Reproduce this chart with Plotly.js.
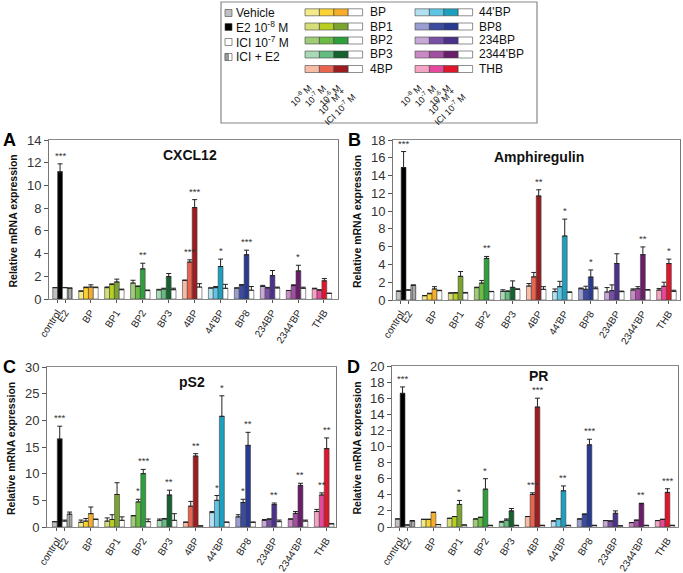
<!DOCTYPE html>
<html><head><meta charset="utf-8">
<script src="https://cdn.plot.ly/plotly-3.0.1.min.js"></script>
<style>body{margin:0;background:#fff}#chart{width:683px;height:573px}</style>
</head><body><div id="chart"></div>
<script>
// ---------- categories ----------
const groups = ['control','BP','BP1','BP2','BP3','4BP',"44'BP",'BP8','234BP',"2344'BP",'THB'];
const tickLabels = ['control','E2','BP','BP1','BP2','BP3','4BP',"44'BP",'BP8','234BP',"2344'BP",'THB'];
const legendLeft = ['Vehicle','E2 10<sup>-8</sup> M','ICI 10<sup>-7</sup> M','ICI + E2'];
const doseLabels = ['10<sup>-8</sup> M','10<sup>-7</sup> M','10<sup>-6</sup> M','10<sup>-6</sup> M +<br>ICI 10<sup>-7</sup> M'];

// ---------- colours (series: lo = vehicle/10^-8, mid = E2/10^-7, hi = ICI/10^-6, ici = ICI+E2 / 10^-6+ICI) ----------
const colLo  = ['#c0c0c0','#f3ea8a','#d6de7a','#a0cc78','#a9d8b6','#f7bba6','#b2e0f0','#9b9ed0','#c7a8d6','#c98ac3','#f5a3c3'];
const colMid = ['#000000','#fbd232','#b8cf22','#6cbb44','#66bb80','#e9644e','#5ec5e5','#3a4ba0','#7a50a6','#a24ea0','#e6489b'];
const colHi  = ['#ffffff','#f6ad2a','#7aa42f','#2d9f3c','#15622f','#9c1c20','#1da0bf','#283b90','#4c318b','#6a1e6a','#e0162c'];
const colIci = ['#a8a8a8','#ffffff','#ffffff','#ffffff','#ffffff','#ffffff','#ffffff','#ffffff','#ffffff','#ffffff','#ffffff'];

// ---------- CXCL12 ----------
const cxcl12_lo      = [1.0, 0.70, 1.00, 1.40, 0.80, 1.65, 0.97, 0.97, 1.10, 0.75, 0.90];
const cxcl12_lo_err  = [0, 0, 0.06, 0.25, 0.05, 0, 0, 0, 0.10, 0, 0.05];
const cxcl12_mid     = [11.2, 1.00, 1.28, 1.10, 0.88, 3.25, 1.00, 1.22, 0.97, 1.18, 0.80];
const cxcl12_mid_err = [0.7, 0.05, 0.05, 0.05, 0.07, 0.20, 0.10, 0.05, 0.05, 0.07, 0];
const cxcl12_hi      = [1.0, 1.05, 1.50, 2.65, 1.97, 8.05, 2.86, 3.90, 2.06, 2.47, 1.60];
const cxcl12_hi_err  = [0, 0.20, 0.25, 0.50, 0.27, 0.70, 0.65, 0.40, 0.45, 0.50, 0.20];
const cxcl12_ici     = [0.95, 1.00, 0.82, 0.74, 0.82, 1.05, 0.94, 0.77, 0.97, 0.94, 0.50];
const cxcl12_ici_err = [0.02, 0.05, 0.05, 0.05, 0.13, 0.30, 0.35, 0.33, 0.08, 0.10, 0];
const cxcl12_star_mid = ['***','','','','','***','','','','',''];
const cxcl12_star_hi  = ['','','','**','','***','*','***','','*',''];

// ---------- Amphiregulin ----------
const areg_lo      = [1.0, 0.49, 0.79, 1.39, 0.97, 1.57, 0.94, 1.27, 0.90, 1.12, 1.12];
const areg_lo_err  = [0, 0, 0, 0.05, 0.18, 0.28, 0.30, 0.08, 0.50, 0.13, 0.18];
const areg_mid     = [14.9, 0.71, 0.79, 1.90, 0.97, 2.60, 1.50, 1.20, 1.05, 1.27, 1.54];
const areg_mid_err = [1.8, 0.05, 0.05, 0.30, 0.05, 0.50, 0.60, 0.35, 0.65, 0.23, 0.46];
const areg_hi      = [1.1, 1.24, 2.66, 4.68, 1.42, 11.7, 7.20, 2.58, 4.10, 5.10, 4.10];
const areg_hi_err  = [0.05, 0.26, 0.54, 0.22, 0.73, 0.70, 1.90, 0.80, 1.10, 0.87, 0.50];
const areg_ici     = [1.65, 1.05, 0.79, 0.94, 1.20, 1.20, 0.86, 1.27, 0.94, 1.12, 0.97];
const areg_ici_err = [0.05, 0.05, 0.06, 0.03, 0.05, 0.30, 0.05, 0.18, 0.06, 0.05, 0.13];
const areg_star_mid = ['***','','','','','','','','','',''];
const areg_star_hi  = ['','','','**','','**','*','*','','**','*'];

// ---------- pS2 ----------
const ps2_lo      = [1.0, 0.88, 1.10, 2.10, 1.25, 0.90, 2.70, 1.90, 1.25, 1.50, 2.90];
const ps2_lo_err  = [0, 0.42, 0.60, 0.05, 0.25, 0, 0.20, 0.40, 0.15, 0, 0.40];
const ps2_mid     = [16.5, 1.10, 1.40, 4.70, 1.50, 3.90, 5.00, 4.60, 1.50, 2.55, 6.00];
const ps2_mid_err = [2.4, 0.50, 0.90, 0.50, 0.10, 0.90, 0.90, 0.60, 0, 0.35, 0.40];
const ps2_hi      = [1.1, 2.50, 6.10, 10.0, 6.00, 13.3, 20.75, 15.3, 4.20, 7.80, 14.7];
const ps2_hi_err  = [0.2, 1.25, 2.20, 0.80, 0.90, 0.45, 3.85, 2.45, 0.30, 0.40, 2.00];
const ps2_ici     = [2.4, 1.40, 1.25, 1.00, 1.25, 0.20, 0.90, 0.90, 1.00, 1.10, 0.60];
const ps2_ici_err = [0.4, 0.10, 0.65, 0.50, 1.25, 0, 0, 0, 0.30, 0.20, 0];
const ps2_star_mid = ['***','','','*','','','*','*','','','**'];
const ps2_star_hi  = ['','','','***','**','**','*','**','**','**','**'];

// ---------- PR ----------
const pr_lo      = [1.0, 0.95, 1.08, 1.00, 0.60, 1.30, 0.75, 1.00, 0.80, 0.55, 0.80];
const pr_lo_err  = [0, 0, 0, 0, 0.10, 0, 0, 0, 0, 0, 0];
const pr_mid     = [16.6, 0.95, 1.30, 1.20, 0.85, 4.05, 1.00, 1.60, 0.75, 0.85, 0.95];
const pr_mid_err = [0.8, 0, 0, 0, 0.15, 0.20, 0.05, 0, 0, 0, 0];
const pr_hi      = [0.25, 1.80, 2.80, 4.70, 2.00, 14.9, 4.50, 10.2, 1.70, 2.90, 4.30];
const pr_hi_err  = [0, 0.05, 0.50, 1.30, 0.30, 1.10, 0.60, 0.70, 0.30, 0.05, 0.45];
const pr_ici     = [0.75, 0.30, 0.25, 0.20, 0.20, 0.20, 0.20, 0.20, 0.15, 0.20, 0.20];
const pr_ici_err = [0.05, 0, 0, 0, 0, 0, 0, 0, 0, 0, 0];
const pr_star_mid = ['***','','','','','***','','','','',''];
const pr_star_hi  = ['','','*','*','','***','**','***','','**','***'];

// ---------- layout helpers ----------
const W = 683, H = 573;
const PX = x => x / W, PY = y => 1 - y / H;
const FONT = 'Liberation Sans, Arial, sans-serif';
const gx = groups.map((g, i) => i);
const nSeries = 4, bargap = 0.25;
const barW = (1 - bargap) / nSeries;
const offs = [0,1,2,3].map(k => -(1 - bargap) / 2 + barW * (k + 0.5));

const panels = [
  {title:'CXCL12', letter:'A', ymax:14, dtick:2, box:[49,338,140,299],
   s:[[cxcl12_lo,cxcl12_lo_err],[cxcl12_mid,cxcl12_mid_err],[cxcl12_hi,cxcl12_hi_err],[cxcl12_ici,cxcl12_ici_err]],
   stars:[null,cxcl12_star_mid,cxcl12_star_hi,null], xr:[-0.52,10.62], letterPos:[9,140], titlePos:[190,155]},
  {title:'Amphiregulin', letter:'B', ymax:18, dtick:2, box:[393,680,140,300],
   s:[[areg_lo,areg_lo_err],[areg_mid,areg_mid_err],[areg_hi,areg_hi_err],[areg_ici,areg_ici_err]],
   stars:[null,areg_star_mid,areg_star_hi,null], xr:[-0.5,10.52], letterPos:[354,140], titlePos:[539,157]},
  {title:'pS2', letter:'C', ymax:30, dtick:5, box:[47,336,367,527],
   s:[[ps2_lo,ps2_lo_err],[ps2_mid,ps2_mid_err],[ps2_hi,ps2_hi_err],[ps2_ici,ps2_ici_err]],
   stars:[null,ps2_star_mid,ps2_star_hi,null], xr:[-0.58,10.45], letterPos:[9,367], titlePos:[192,382]},
  {title:'PR', letter:'D', ymax:20, dtick:2, box:[392,678,366,527],
   s:[[pr_lo,pr_lo_err],[pr_mid,pr_mid_err],[pr_hi,pr_hi_err],[pr_ici,pr_ici_err]],
   stars:[null,pr_star_mid,pr_star_hi,null], xr:[-0.5,10.5], letterPos:[353,367], titlePos:[538,376]}
];
const seriesCols = [colLo, colMid, colHi, colIci];

const data = [];
const annotations = [];
const shapes = [];
const layout = {
  width: W, height: H, margin:{l:0,r:0,t:0,b:0},
  paper_bgcolor:'#fff', plot_bgcolor:'#fff',
  barmode:'group', bargap: bargap, bargroupgap: 0,
  showlegend:false, font:{family:FONT, color:'#222'}
};

const tickPos = tickLabels.map((t, i) => i === 0 ? -0.2 : (i === 1 ? 0.1 : i - 1 + 0.08));

function paperText(x, y, text, font, extra) {
  return Object.assign({xref:'paper', yref:'paper', x: PX(x), y: PY(y), text: text, showarrow:false,
    xanchor:'center', yanchor:'middle', font: font}, extra || {});
}

panels.forEach((p, pi) => {
  const n = pi + 1;
  const xa = n === 1 ? 'x' : 'x' + n, ya = n === 1 ? 'y' : 'y' + n;
  const xk = n === 1 ? 'xaxis' : 'xaxis' + n, yk = n === 1 ? 'yaxis' : 'yaxis' + n;
  const [x0, x1, y0, y1] = p.box;
  layout[xk] = {domain:[PX(x0), PX(x1)], anchor: ya, range: p.xr, tickmode:'array',
    tickvals: tickPos, ticktext: tickLabels, tickangle: -57, ticks:'outside', ticklen:3,
    tickcolor:'#555', tickfont:{size:10, color:'#222', family:FONT},
    showline:true, linecolor:'#888', linewidth:1, mirror:true, showgrid:false, zeroline:false, fixedrange:true, automargin:false};
  layout[yk] = {domain:[PY(y1), PY(y0)], anchor: xa, range:[0, p.ymax], dtick: p.dtick,
    ticks:'outside', ticklen:4, tickcolor:'#555', tickfont:{size:13, color:'#333', family:FONT},
    showline:true, linecolor:'#777', linewidth:1, mirror:true, showgrid:false, zeroline:false, fixedrange:true, automargin:false};

  p.s.forEach(([vals, errs], k) => {
    const trace = {
      type:'bar', x: gx, y: vals, xaxis: xa, yaxis: ya,
      marker:{color: seriesCols[k], line:{color:'#444', width:0.6}},
      error_y:{type:'data', array: errs, arrayminus: errs.map(() => 0), symmetric:false,
               color:'#222', thickness:1, width:2.5},
      hoverinfo:'skip'
    };
    if (k === 3) {
      trace.marker.pattern = {shape: groups.map((g, i) => i === 0 ? '|' : ''), fillmode:'overlay',
                              fgcolor:'#555', size:3, solidity:0.35};
    }
    data.push(trace);
    const st = p.stars[k];
    if (st) st.forEach((s, i) => {
      if (!s) return;
      annotations.push({xref: xa, yref: ya, x: i + offs[k], y: vals[i] + errs[i], text: s,
        showarrow:false, xanchor:'center', yanchor:'bottom', yshift: 1, font:{size:9.5, color:'#333', family:FONT}});
    });
  });

  annotations.push(paperText(p.titlePos[0], p.titlePos[1], '<b>' + p.title + '</b>', {size:14, color:'#111', family:FONT}));
  annotations.push(paperText(p.letterPos[0], p.letterPos[1], '<b>' + p.letter + '</b>', {size:18, color:'#000', family:FONT}));
  annotations.push(paperText(x0 - 36, (y0 + y1) / 2 + 2, '<b>Relative mRNA expression</b>',
    {size:10.5, color:'#111', family:FONT}, {textangle:-90}));
});

// ---------- legend box ----------
const LB = {x0:221, x1:537, y0:2, y1:123};
shapes.push({type:'rect', xref:'paper', yref:'paper', x0:PX(LB.x0), x1:PX(LB.x1), y0:PY(LB.y1), y1:PY(LB.y0),
  line:{color:'#888', width:1.2}, fillcolor:'rgba(0,0,0,0)'});
const leftRows = [13, 27, 42, 57];
const leftFill = ['#c0c0c0', '#000000', '#ffffff', null];
legendLeft.forEach((t, i) => {
  const yc = leftRows[i];
  shapes.push({type:'rect', xref:'paper', yref:'paper', x0:PX(225), x1:PX(232), y0:PY(yc + 3.5), y1:PY(yc - 3.5),
    fillcolor: leftFill[i] || '#ffffff', line:{color:'#444', width:0.6}});
  if (!leftFill[i]) {
    shapes.push({type:'rect', xref:'paper', yref:'paper', x0:PX(225), x1:PX(228.5), y0:PY(yc + 3.5), y1:PY(yc - 3.5),
      fillcolor:'#999999', line:{color:'#444', width:0.4}});
  }
  annotations.push(paperText(234, yc, t, {size:12, color:'#111', family:FONT}, {xanchor:'left'}));
});

const rowY = [12.3, 26.5, 40.5, 54.5, 69];
const cols = [{x:305, lab:368, idx:[1,2,3,4,5]}, {x:415, lab:477, idx:[6,7,8,9,10]}];
const cellW = 14.4, cellH = 7;
cols.forEach(c => {
  c.idx.forEach((gi, r) => {
    const yc = rowY[r];
    seriesCols.forEach((sc, k) => {
      shapes.push({type:'rect', xref:'paper', yref:'paper',
        x0:PX(c.x + k * cellW), x1:PX(c.x + (k + 1) * cellW), y0:PY(yc + cellH / 2), y1:PY(yc - cellH / 2),
        fillcolor: sc[gi], line:{color:'#444', width:0.6}});
    });
    annotations.push(paperText(c.lab, yc, groups[gi], {size:12, color:'#111', family:FONT}, {xanchor:'left'}));
  });
  doseLabels.forEach((t, k) => {
    annotations.push(paperText(c.x + (k + 0.85) * cellW, 79, t, {size:9, color:'#111', family:FONT},
      {textangle:-45, xanchor:'right', yanchor:'top'}));
  });
});

layout.annotations = annotations;
layout.shapes = shapes;
Plotly.newPlot('chart', data, layout, {staticPlot:true, displayModeBar:false});
</script></body></html>
